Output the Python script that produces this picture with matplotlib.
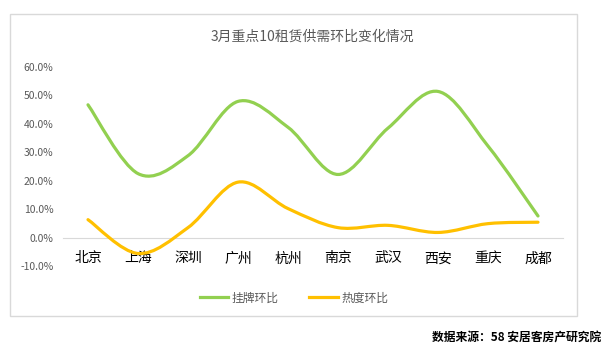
import numpy as np
import matplotlib.pyplot as plt
from matplotlib.path import Path
from matplotlib.patches import PathPatch, Rectangle
from matplotlib.lines import Line2D

plt.rcParams['font.family'] = ['Noto Sans CJK SC', 'DejaVu Sans']

# ---------------------------------------------------------------
# data
# ---------------------------------------------------------------
cities = ["北京", "上海", "深圳", "广州", "杭州", "南京", "武汉", "西安", "重庆", "成都"]
listing_mom = [46.7, 22.5, 28.8, 47.9, 38.8, 22.2, 38.5, 51.4, 32.2, 7.6]   # 挂牌环比 (%)
heat_mom = [6.3, -5.6, 3.5, 19.5, 10.2, 3.5, 4.3, 1.8, 4.9, 5.4]           # 热度环比 (%)
yticks = [-10, 0, 10, 20, 30, 40, 50, 60]

GREEN = "#92D050"
YELLOW = "#FFC000"
GREY = "#595959"


def smooth_path(x, y):
    # Excel-like smoothed line: cubic bezier through each point (catmull-rom)
    x = np.asarray(x, float)
    y = np.asarray(y, float)
    px = np.concatenate([[x[0]], x, [x[-1]]])
    py = np.concatenate([[y[0]], y, [y[-1]]])
    verts = [(x[0], y[0])]
    codes = [Path.MOVETO]
    for i in range(1, len(x)):
        c1 = (px[i] + (px[i + 1] - px[i - 1]) / 6, py[i] + (py[i + 1] - py[i - 1]) / 6)
        c2 = (px[i + 1] - (px[i + 2] - px[i]) / 6, py[i + 1] - (py[i + 2] - py[i]) / 6)
        verts += [c1, c2, (x[i], y[i])]
        codes += [Path.CURVE4] * 3
    return Path(verts, codes)


fig = plt.figure(figsize=(6.04, 3.51), dpi=100)
ax = fig.add_axes([63 / 604, 1 - 266 / 351, 500 / 604, 199 / 351])

xs = np.arange(len(cities))
for vals, col in [(listing_mom, GREEN), (heat_mom, YELLOW)]:
    ax.add_patch(PathPatch(smooth_path(xs, vals), facecolor="none", edgecolor=col,
                           lw=2.3, capstyle="round", joinstyle="round", zorder=3))

ax.set_xlim(-0.5, len(cities) - 0.5)
ax.set_ylim(-10, 60)
ax.set_yticks(yticks)
ax.set_yticklabels([f"{v:.1f}%" for v in yticks], color=GREY, fontsize=7.5)
ax.set_xticks(xs)
ax.set_xticklabels(cities, color="#666666", fontsize=8.5, fontweight="light")

for s in ["top", "right", "left"]:
    ax.spines[s].set_visible(False)
ax.spines["bottom"].set_position(("data", 0))
ax.spines["bottom"].set_color("#d9d9d9")
ax.spines["bottom"].set_zorder(1)
ax.tick_params(axis="x", length=0, pad=10)
ax.tick_params(axis="y", length=0, pad=7)

fig.text(312 / 604, 1 - 37 / 351, "3月重点10租赁供需环比变化情况",
         ha="center", va="center", fontsize=10, color=GREY)

handles = [Line2D([], [], color=GREEN, lw=2.3),
           Line2D([], [], color=YELLOW, lw=2.3)]
fig.legend(handles, ["挂牌环比", "热度环比"], loc="center", ncol=2, frameon=False,
           bbox_to_anchor=(294 / 604, 1 - 298 / 351), fontsize=8.5,
           handlelength=2.4, handletextpad=0.3, columnspacing=2.6,
           labelcolor=GREY)

# chart border
fig.patches.append(Rectangle((9.5 / 604, 1 - 316 / 351), 567 / 604, 302 / 351,
                             transform=fig.transFigure, fill=False,
                             edgecolor="#d9d9d9", lw=1))

fig.text(601 / 604, 1 - 337 / 351, "数据来源：58 安居客房产研究院",
         ha="right", va="center", fontsize=8.5, color="black", fontweight="bold")

fig.savefig("out.png", dpi=100)
